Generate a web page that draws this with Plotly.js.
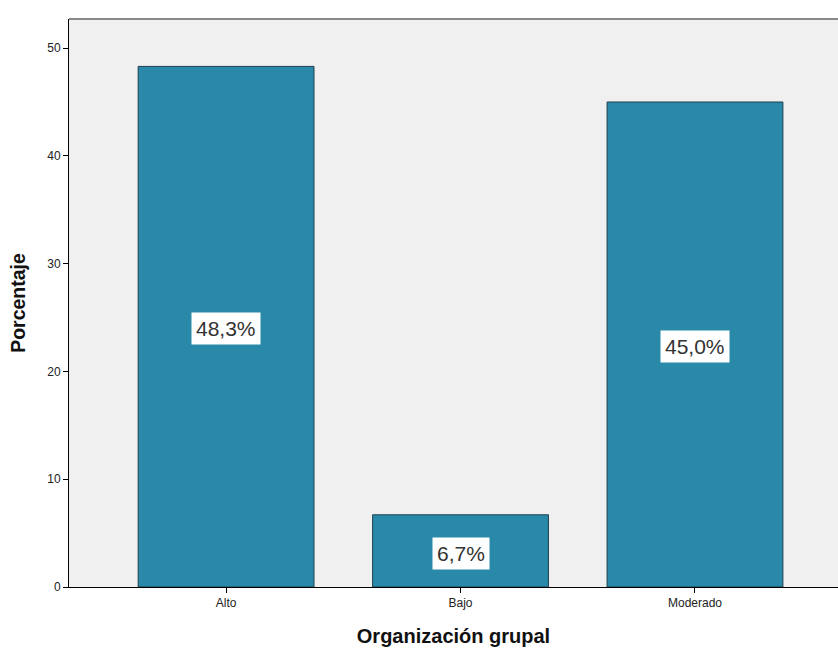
<!DOCTYPE html>
<html><head><meta charset="utf-8">
<script src="https://cdn.plot.ly/plotly-3.0.1.min.js"></script>
<style>html,body{margin:0;padding:0;background:#fff}#chart{width:838px;height:651px}</style>
</head><body><div id="chart"></div>
<script>
const categories = ["Alto", "Bajo", "Moderado"];
const percentages = [48.3, 6.7, 45.0];
const labels = ["48,3%", "6,7%", "45,0%"];
const yTicks = [0, 10, 20, 30, 40, 50];

const trace = {
  type: "bar", x: [0, 1, 2], y: percentages,
  marker: {color: "#2a89a8", line: {color: "#1f3f4f", width: 1}},
  hoverinfo: "none"
};
const annotations = percentages.map((v, i) => ({
  x: i, y: v / 2 - 0.2, xref: "x", yref: "y", text: labels[i], showarrow: false,
  bgcolor: "#ffffff", borderpad: 4,
  font: {family: "Liberation Sans, Arial, sans-serif", size: 21, color: "#333333"}
}));
const layout = {
  width: 838, height: 651,
  margin: {l: 69, r: 0, t: 19, b: 64},
  paper_bgcolor: "#ffffff", plot_bgcolor: "#f0f0f0",
  bargap: 0.25, showlegend: false,
  font: {family: "Liberation Sans, Arial, sans-serif", color: "#222"},
  xaxis: {
    range: [-0.67, 2.61], tickvals: [0, 1, 2], ticktext: categories,
    showline: true, linecolor: "#000", linewidth: 1, ticks: "outside", ticklen: 5,
    tickcolor: "#000", showgrid: false, zeroline: false,
    tickfont: {size: 12, color: "#222"},
    title: {text: "Organización grupal", font: {size: 20, color: "#111", weight: "bold"}, standoff: 19}
  },
  yaxis: {
    range: [0, 52.7], tickvals: yTicks, showline: true, linecolor: "#000", linewidth: 1,
    ticks: "outside", ticklen: 5, tickcolor: "#000", showgrid: false, zeroline: false,
    tickfont: {size: 12, color: "#222"},
    title: {text: "Porcentaje", font: {size: 19.5, color: "#111", weight: "bold"}, standoff: 16}
  },
  shapes: [{type: "line", xref: "paper", yref: "paper", x0: 0, x1: 1, y0: 1, y1: 1,
    line: {color: "#888", width: 2}}],
  annotations: annotations
};
Plotly.newPlot("chart", [trace], layout, {displayModeBar: false, staticPlot: true});
</script></body></html>
